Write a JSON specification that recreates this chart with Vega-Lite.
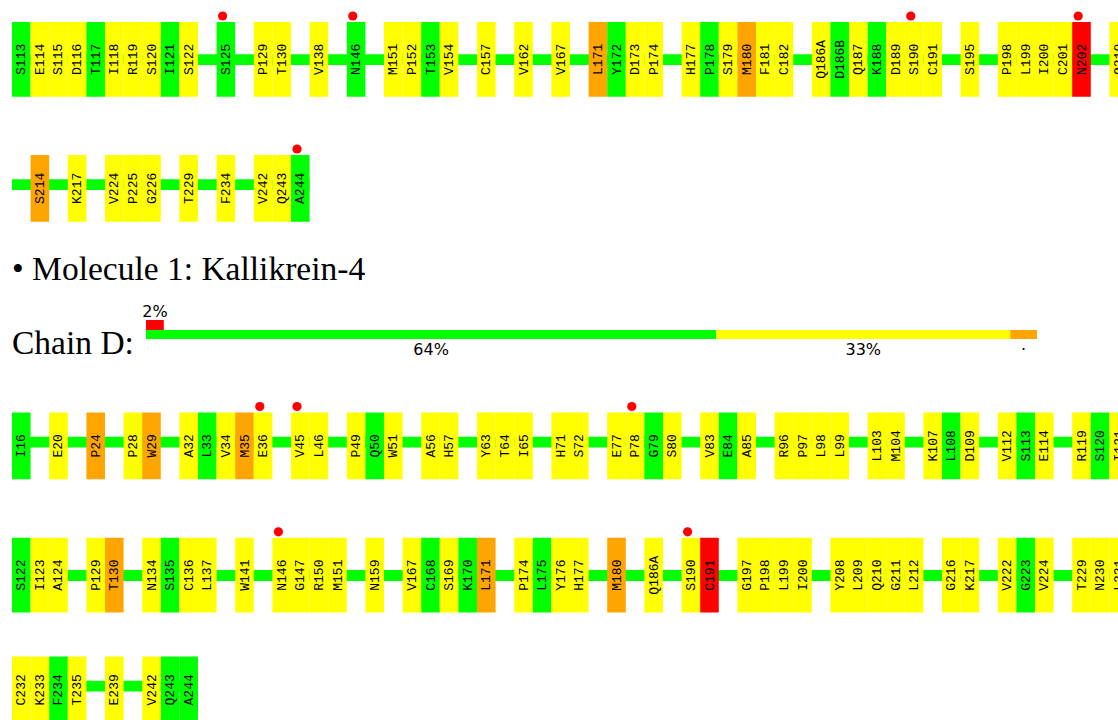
{
  "$schema": "https://vega.github.io/schema/vega-lite/v6.json",
  "width": 1118,
  "height": 720,
  "padding": 0,
  "autosize": {"type": "none"},
  "background": "#ffffff",
  "config": {"view": {"stroke": null}},
  "datasets": {
    "residues": [
      {"line":1,"slot":0,"res":"S113","issues":0},
      {"line":1,"slot":1,"res":"E114","issues":1},
      {"line":1,"slot":2,"res":"S115","issues":1},
      {"line":1,"slot":3,"res":"D116","issues":1},
      {"line":1,"slot":4,"res":"T117","issues":0},
      {"line":1,"slot":5,"res":"I118","issues":1},
      {"line":1,"slot":6,"res":"R119","issues":1},
      {"line":1,"slot":7,"res":"S120","issues":1},
      {"line":1,"slot":8,"res":"I121","issues":0},
      {"line":1,"slot":9,"res":"S122","issues":1},
      {"line":1,"slot":11,"res":"S125","issues":0,"dot":true},
      {"line":1,"slot":13,"res":"P129","issues":1},
      {"line":1,"slot":14,"res":"T130","issues":1},
      {"line":1,"slot":16,"res":"V138","issues":1},
      {"line":1,"slot":18,"res":"N146","issues":0,"dot":true},
      {"line":1,"slot":20,"res":"M151","issues":1},
      {"line":1,"slot":21,"res":"P152","issues":1},
      {"line":1,"slot":22,"res":"T153","issues":0},
      {"line":1,"slot":23,"res":"V154","issues":1},
      {"line":1,"slot":25,"res":"C157","issues":1},
      {"line":1,"slot":27,"res":"V162","issues":1},
      {"line":1,"slot":29,"res":"V167","issues":1},
      {"line":1,"slot":31,"res":"L171","issues":2},
      {"line":1,"slot":32,"res":"Y172","issues":0},
      {"line":1,"slot":33,"res":"D173","issues":1},
      {"line":1,"slot":34,"res":"P174","issues":1},
      {"line":1,"slot":36,"res":"H177","issues":1},
      {"line":1,"slot":37,"res":"P178","issues":0},
      {"line":1,"slot":38,"res":"S179","issues":1},
      {"line":1,"slot":39,"res":"M180","issues":2},
      {"line":1,"slot":40,"res":"F181","issues":1},
      {"line":1,"slot":41,"res":"C182","issues":1},
      {"line":1,"slot":43,"res":"Q186A","issues":1},
      {"line":1,"slot":44,"res":"D186B","issues":0},
      {"line":1,"slot":45,"res":"Q187","issues":1},
      {"line":1,"slot":46,"res":"K188","issues":0},
      {"line":1,"slot":47,"res":"D189","issues":1},
      {"line":1,"slot":48,"res":"S190","issues":1,"dot":true},
      {"line":1,"slot":49,"res":"C191","issues":1},
      {"line":1,"slot":51,"res":"S195","issues":1},
      {"line":1,"slot":53,"res":"P198","issues":1},
      {"line":1,"slot":54,"res":"L199","issues":1},
      {"line":1,"slot":55,"res":"I200","issues":1},
      {"line":1,"slot":56,"res":"C201","issues":1},
      {"line":1,"slot":57,"res":"N202","issues":3,"dot":true},
      {"line":1,"slot":59,"res":"Q210","issues":1},
      {"line":2,"slot":1,"res":"S214","issues":2},
      {"line":2,"slot":3,"res":"K217","issues":1},
      {"line":2,"slot":5,"res":"V224","issues":1},
      {"line":2,"slot":6,"res":"P225","issues":1},
      {"line":2,"slot":7,"res":"G226","issues":1},
      {"line":2,"slot":9,"res":"T229","issues":1},
      {"line":2,"slot":11,"res":"F234","issues":1},
      {"line":2,"slot":13,"res":"V242","issues":1},
      {"line":2,"slot":14,"res":"Q243","issues":1},
      {"line":2,"slot":15,"res":"A244","issues":0,"dot":true},
      {"line":5,"slot":0,"res":"I16","issues":0},
      {"line":5,"slot":2,"res":"E20","issues":1},
      {"line":5,"slot":4,"res":"P24","issues":2},
      {"line":5,"slot":6,"res":"P28","issues":1},
      {"line":5,"slot":7,"res":"W29","issues":2},
      {"line":5,"slot":9,"res":"A32","issues":1},
      {"line":5,"slot":10,"res":"L33","issues":0},
      {"line":5,"slot":11,"res":"V34","issues":1},
      {"line":5,"slot":12,"res":"M35","issues":2},
      {"line":5,"slot":13,"res":"E36","issues":1,"dot":true},
      {"line":5,"slot":15,"res":"V45","issues":1,"dot":true},
      {"line":5,"slot":16,"res":"L46","issues":1},
      {"line":5,"slot":18,"res":"P49","issues":1},
      {"line":5,"slot":19,"res":"Q50","issues":0},
      {"line":5,"slot":20,"res":"W51","issues":1},
      {"line":5,"slot":22,"res":"A56","issues":1},
      {"line":5,"slot":23,"res":"H57","issues":1},
      {"line":5,"slot":25,"res":"Y63","issues":1},
      {"line":5,"slot":26,"res":"T64","issues":1},
      {"line":5,"slot":27,"res":"I65","issues":1},
      {"line":5,"slot":29,"res":"H71","issues":1},
      {"line":5,"slot":30,"res":"S72","issues":1},
      {"line":5,"slot":32,"res":"E77","issues":1},
      {"line":5,"slot":33,"res":"P78","issues":1,"dot":true},
      {"line":5,"slot":34,"res":"G79","issues":0},
      {"line":5,"slot":35,"res":"S80","issues":1},
      {"line":5,"slot":37,"res":"V83","issues":1},
      {"line":5,"slot":38,"res":"E84","issues":0},
      {"line":5,"slot":39,"res":"A85","issues":1},
      {"line":5,"slot":41,"res":"R96","issues":1},
      {"line":5,"slot":42,"res":"P97","issues":1},
      {"line":5,"slot":43,"res":"L98","issues":1},
      {"line":5,"slot":44,"res":"L99","issues":1},
      {"line":5,"slot":46,"res":"L103","issues":1},
      {"line":5,"slot":47,"res":"M104","issues":1},
      {"line":5,"slot":49,"res":"K107","issues":1},
      {"line":5,"slot":50,"res":"L108","issues":0},
      {"line":5,"slot":51,"res":"D109","issues":1},
      {"line":5,"slot":53,"res":"V112","issues":1},
      {"line":5,"slot":54,"res":"S113","issues":0},
      {"line":5,"slot":55,"res":"E114","issues":1},
      {"line":5,"slot":57,"res":"R119","issues":1},
      {"line":5,"slot":58,"res":"S120","issues":0},
      {"line":5,"slot":59,"res":"I121","issues":1},
      {"line":6,"slot":0,"res":"S122","issues":0},
      {"line":6,"slot":1,"res":"I123","issues":1},
      {"line":6,"slot":2,"res":"A124","issues":1},
      {"line":6,"slot":4,"res":"P129","issues":1},
      {"line":6,"slot":5,"res":"T130","issues":2},
      {"line":6,"slot":7,"res":"N134","issues":1},
      {"line":6,"slot":8,"res":"S135","issues":0},
      {"line":6,"slot":9,"res":"C136","issues":1},
      {"line":6,"slot":10,"res":"L137","issues":1},
      {"line":6,"slot":12,"res":"W141","issues":1},
      {"line":6,"slot":14,"res":"N146","issues":1,"dot":true},
      {"line":6,"slot":15,"res":"G147","issues":1},
      {"line":6,"slot":16,"res":"R150","issues":1},
      {"line":6,"slot":17,"res":"M151","issues":1},
      {"line":6,"slot":19,"res":"N159","issues":1},
      {"line":6,"slot":21,"res":"V167","issues":1},
      {"line":6,"slot":22,"res":"C168","issues":0},
      {"line":6,"slot":23,"res":"S169","issues":1},
      {"line":6,"slot":24,"res":"K170","issues":0},
      {"line":6,"slot":25,"res":"L171","issues":2},
      {"line":6,"slot":27,"res":"P174","issues":1},
      {"line":6,"slot":28,"res":"L175","issues":0},
      {"line":6,"slot":29,"res":"Y176","issues":1},
      {"line":6,"slot":30,"res":"H177","issues":1},
      {"line":6,"slot":32,"res":"M180","issues":2},
      {"line":6,"slot":34,"res":"Q186A","issues":1},
      {"line":6,"slot":36,"res":"S190","issues":1,"dot":true},
      {"line":6,"slot":37,"res":"C191","issues":3},
      {"line":6,"slot":39,"res":"G197","issues":1},
      {"line":6,"slot":40,"res":"P198","issues":1},
      {"line":6,"slot":41,"res":"L199","issues":1},
      {"line":6,"slot":42,"res":"I200","issues":1},
      {"line":6,"slot":44,"res":"Y208","issues":1},
      {"line":6,"slot":45,"res":"L209","issues":1},
      {"line":6,"slot":46,"res":"Q210","issues":1},
      {"line":6,"slot":47,"res":"G211","issues":1},
      {"line":6,"slot":48,"res":"L212","issues":1},
      {"line":6,"slot":50,"res":"G216","issues":1},
      {"line":6,"slot":51,"res":"K217","issues":1},
      {"line":6,"slot":53,"res":"V222","issues":1},
      {"line":6,"slot":54,"res":"G223","issues":0},
      {"line":6,"slot":55,"res":"V224","issues":1},
      {"line":6,"slot":57,"res":"T229","issues":1},
      {"line":6,"slot":58,"res":"N230","issues":1},
      {"line":6,"slot":59,"res":"L231","issues":1},
      {"line":7,"slot":0,"res":"C232","issues":1},
      {"line":7,"slot":1,"res":"K233","issues":1},
      {"line":7,"slot":2,"res":"F234","issues":0},
      {"line":7,"slot":3,"res":"T235","issues":1},
      {"line":7,"slot":5,"res":"E239","issues":1},
      {"line":7,"slot":7,"res":"V242","issues":1},
      {"line":7,"slot":8,"res":"Q243","issues":0},
      {"line":7,"slot":9,"res":"A244","issues":0}
    ],
    "backbone": [
      {"line":1,"from":0,"to":60},
      {"line":2,"from":0,"to":16},
      {"line":5,"from":0,"to":60},
      {"line":6,"from":0,"to":60},
      {"line":7,"from":0,"to":10}
    ],
    "headings": [
      {"line":3,"label":"• Molecule 1: Kallikrein-4"}
    ],
    "chains": [
      {"line":4,"slot":0,"label":"Chain D:"}
    ],
    "chainbar": [
      {"line":4,"tier":"upper","issues":3,"start":0,"end":2},
      {"line":4,"tier":"main","issues":0,"start":0,"end":64},
      {"line":4,"tier":"main","issues":1,"start":64,"end":97},
      {"line":4,"tier":"main","issues":2,"start":97,"end":100}
    ],
    "chainlabels": [
      {"line":4,"tier":"upper","pos":1,"label":"2%"},
      {"line":4,"tier":"main","pos":32,"label":"64%"},
      {"line":4,"tier":"main","pos":80.5,"label":"33%"},
      {"line":4,"tier":"main","pos":98.5,"label":"·"}
    ]
  },
  "layer": [
    {
      "layer": [
        {
          "data": {"name": "backbone"},
          "mark": {"type": "rect", "color": "#00ff00", "yOffset": -5.4, "y2Offset": 5.4},
          "encoding": {
            "x": {"field": "from", "type": "quantitative", "scale": {"domain": [-0.645161, 59.462366], "nice": false, "zero": false}, "axis": null},
            "x2": {"field": "to"},
            "y": {"field": "line", "type": "quantitative", "scale": {"domain": [1,2,3,4,5,6,7], "range": [59.7,184.7,279.5,334.5,442.2,575.5,686.2], "nice": false, "zero": false}, "axis": null},
            "y2": {"field": "line"}
          }
        },
        {
          "data": {"name": "residues"},
          "transform": [{"filter": "datum.line == 1 || datum.line == 6"}],
          "mark": {"type": "rect", "x2Offset": 18.6, "yOffset": -37.7, "y2Offset": 37},
          "encoding": {
            "x": {"field": "slot", "type": "quantitative", "axis": null},
            "x2": {"field": "slot"},
            "y": {"field": "line", "type": "quantitative", "axis": null},
            "y2": {"field": "line"},
            "color": {"field": "issues", "type": "ordinal", "scale": {"domain": [0,1,2,3], "range": ["#00ff00","#ffff00","#ffa500","#ff0000"]}, "legend": null}
          }
        },
        {
          "data": {"name": "residues"},
          "transform": [{"filter": "datum.line != 1 && datum.line != 6"}],
          "mark": {"type": "rect", "x2Offset": 18.6, "yOffset": -29.7, "y2Offset": 37},
          "encoding": {
            "x": {"field": "slot", "type": "quantitative", "axis": null},
            "x2": {"field": "slot"},
            "y": {"field": "line", "type": "quantitative", "axis": null},
            "y2": {"field": "line"},
            "color": {"field": "issues", "type": "ordinal", "legend": null}
          }
        },
        {
          "data": {"name": "residues"},
          "transform": [{"filter": "datum.line == 1 || datum.line == 6"}],
          "mark": {"type": "text", "angle": 270, "align": "center", "baseline": "middle", "font": "Liberation Mono", "fontSize": 13, "color": "#000000", "xOffset": 9.3, "yOffset": -0.35},
          "encoding": {
            "x": {"field": "slot", "type": "quantitative", "axis": null},
            "y": {"field": "line", "type": "quantitative", "axis": null},
            "text": {"field": "res"}
          }
        },
        {
          "data": {"name": "residues"},
          "transform": [{"filter": "datum.line != 1 && datum.line != 6"}],
          "mark": {"type": "text", "angle": 270, "align": "center", "baseline": "middle", "font": "Liberation Mono", "fontSize": 13, "color": "#000000", "xOffset": 9.3, "yOffset": 3.65},
          "encoding": {
            "x": {"field": "slot", "type": "quantitative", "axis": null},
            "y": {"field": "line", "type": "quantitative", "axis": null},
            "text": {"field": "res"}
          }
        },
        {
          "data": {"name": "residues"},
          "transform": [{"filter": "datum.dot && (datum.line == 1 || datum.line == 6)"}],
          "mark": {"type": "circle", "color": "#ff0000", "opacity": 1, "size": 85, "xOffset": 6, "yOffset": -43.7},
          "encoding": {
            "x": {"field": "slot", "type": "quantitative", "axis": null},
            "y": {"field": "line", "type": "quantitative", "axis": null}
          }
        },
        {
          "data": {"name": "residues"},
          "transform": [{"filter": "datum.dot && datum.line != 1 && datum.line != 6"}],
          "mark": {"type": "circle", "color": "#ff0000", "opacity": 1, "size": 85, "xOffset": 6, "yOffset": -35.7},
          "encoding": {
            "x": {"field": "slot", "type": "quantitative", "axis": null},
            "y": {"field": "line", "type": "quantitative", "axis": null}
          }
        },
        {
          "data": {"name": "headings"},
          "mark": {"type": "text", "align": "left", "baseline": "alphabetic", "font": "Liberation Serif", "fontSize": 33.5, "color": "#000000"},
          "encoding": {
            "x": {"datum": 0, "type": "quantitative", "axis": null},
            "y": {"field": "line", "type": "quantitative", "axis": null},
            "text": {"field": "label"}
          }
        },
        {
          "data": {"name": "chains"},
          "mark": {"type": "text", "align": "left", "baseline": "alphabetic", "font": "Liberation Serif", "fontSize": 33.5, "color": "#000000", "dy": 19.5},
          "encoding": {
            "x": {"field": "slot", "type": "quantitative", "axis": null},
            "y": {"field": "line", "type": "quantitative", "axis": null},
            "text": {"field": "label"}
          }
        }
      ]
    },
    {
      "layer": [
        {
          "data": {"name": "chainbar"},
          "transform": [{"filter": "datum.tier == 'main'"}],
          "mark": {"type": "rect", "yOffset": -4.5, "y2Offset": 4.5},
          "encoding": {
            "x": {"field": "start", "type": "quantitative", "scale": {"domain": [-16.386083, 109.090909], "nice": false, "zero": false}, "axis": null},
            "x2": {"field": "end"},
            "y": {"field": "line", "type": "quantitative", "axis": null},
            "y2": {"field": "line"},
            "color": {"field": "issues", "type": "ordinal", "legend": null}
          }
        },
        {
          "data": {"name": "chainbar"},
          "transform": [{"filter": "datum.tier == 'upper'"}],
          "mark": {"type": "rect", "yOffset": -14.5, "y2Offset": -4.5},
          "encoding": {
            "x": {"field": "start", "type": "quantitative", "axis": null},
            "x2": {"field": "end"},
            "y": {"field": "line", "type": "quantitative", "axis": null},
            "y2": {"field": "line"},
            "color": {"field": "issues", "type": "ordinal", "legend": null}
          }
        },
        {
          "data": {"name": "chainlabels"},
          "transform": [{"filter": "datum.tier == 'main'"}],
          "mark": {"type": "text", "align": "center", "baseline": "middle", "font": "DejaVu Sans", "fontSize": 16, "color": "#000000", "dy": 15.5},
          "encoding": {
            "x": {"field": "pos", "type": "quantitative", "axis": null},
            "y": {"field": "line", "type": "quantitative", "axis": null},
            "text": {"field": "label"}
          }
        },
        {
          "data": {"name": "chainlabels"},
          "transform": [{"filter": "datum.tier == 'upper'"}],
          "mark": {"type": "text", "align": "center", "baseline": "middle", "font": "DejaVu Sans", "fontSize": 16, "color": "#000000", "dy": -23},
          "encoding": {
            "x": {"field": "pos", "type": "quantitative", "axis": null},
            "y": {"field": "line", "type": "quantitative", "axis": null},
            "text": {"field": "label"}
          }
        }
      ]
    }
  ],
  "resolve": {"scale": {"x": "independent"}}
}
